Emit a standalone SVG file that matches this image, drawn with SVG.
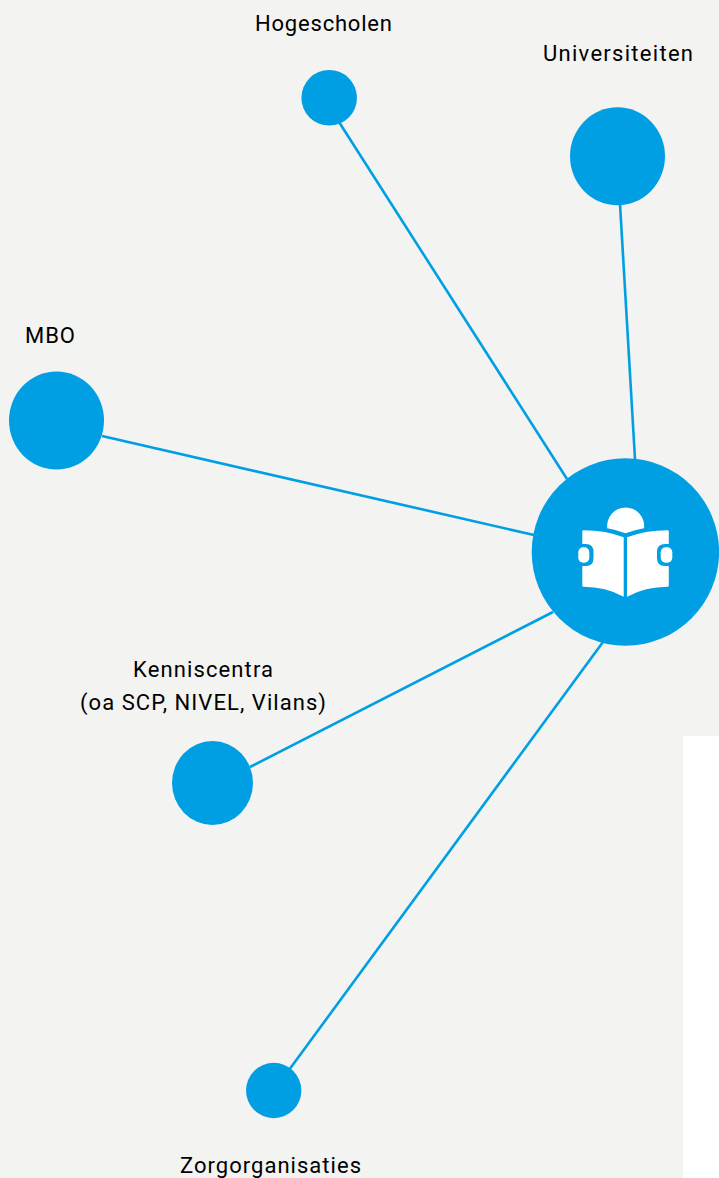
<svg xmlns="http://www.w3.org/2000/svg" width="719" height="1178" viewBox="0 0 719 1178">
<style>
.n{fill:#009fe3}
.c{stroke:#009fe3;stroke-width:2.6;fill:none}
.t{font-family:Roboto,"Liberation Sans",sans-serif;font-size:22px;font-weight:400;fill:#000;text-anchor:middle}
.i{fill:#fff}
</style>
<rect width="719" height="1178" fill="#f3f3f2"/>
<rect x="683" y="736" width="36" height="442" fill="#fff"/>
<g id="connectors">
<line class="c" x1="339" y1="122" x2="567" y2="479"/>
<line class="c" x1="620" y1="204" x2="635" y2="459"/>
<line class="c" x1="102" y1="436" x2="534" y2="535"/>
<line class="c" x1="250" y1="767" x2="553" y2="612"/>
<line class="c" x1="289" y1="1070" x2="603" y2="642"/>
</g>
<g id="hogescholen"><circle class="n" cx="329.200" cy="97.800" r="27.800"/><text class="t" x="323.500" y="31.300" textLength="137">Hogescholen</text></g>
<g id="universiteiten"><ellipse class="n" cx="617.500" cy="156.300" rx="47.500" ry="49"/><text class="t" x="618" y="61" textLength="150">Universiteiten</text></g>
<g id="mbo"><ellipse class="n" cx="56.500" cy="420.500" rx="47.500" ry="49"/><text class="t" x="50" y="343" textLength="50">MBO</text></g>
<g id="kenniscentra"><ellipse class="n" cx="212.500" cy="783" rx="40.500" ry="42"/><text class="t" x="203" y="676.500" textLength="140">Kenniscentra</text><text class="t" x="203" y="710" textLength="246">(oa SCP, NIVEL, Vilans)</text></g>
<g id="zorgorganisaties"><circle class="n" cx="273.700" cy="1090.500" r="27.700"/><text class="t" x="270.500" y="1173.300" textLength="181">Zorgorganisaties</text></g>
<g id="hub">
<circle class="n" cx="625.400" cy="552" r="93.700"/>
<path class="i" d="M607.300 528.300A18.500 18.500 0 1 1 644 528.300Q634 530 625.500 533.300Q617 530 607.300 528.300Z"/>
<path class="i" d="M582.300 531.500Q582.300 530.300 583.500 530.300Q606 530.500 623.700 537.300V596.700Q606 586.700 583.500 586.700Q582.300 586.700 582.300 585.500V566H586Q593.500 566 593.500 558V552Q593.500 544 586 544H582.300Z"/>
<path class="i" d="M668.800 531.500Q668.800 530.300 667.600 530.300Q645 530.500 627 537.300V596.700Q645 586.700 667.600 586.700Q668.800 586.700 668.800 585.500V566H665Q657 566 657 558V552Q657 544 665 544H668.800Z"/>
<rect class="i" x="578.300" y="547.300" width="11" height="15.400" rx="5"/>
<rect class="i" x="660.700" y="547.300" width="11.600" height="15.400" rx="5"/>
</g>
</svg>
